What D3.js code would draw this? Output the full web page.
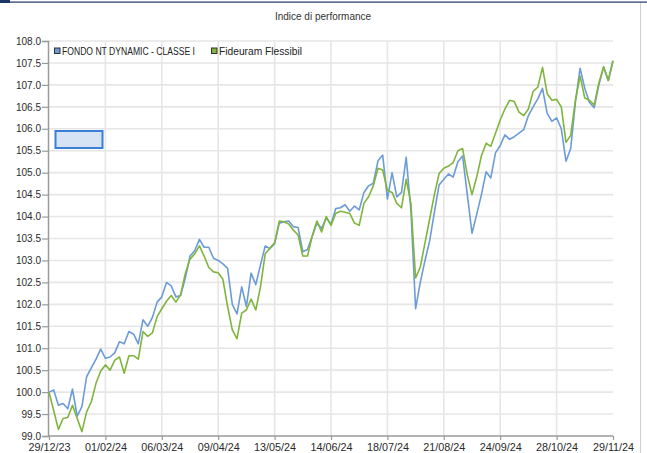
<!DOCTYPE html>
<html>
<head>
<meta charset="utf-8">
<script src="https://cdn.jsdelivr.net/npm/d3@7"></script>
<style>
    body { margin: 0; background: #fff; }
    svg { display: block; font-family: "Liberation Sans", Arial, sans-serif; }
</style>
</head>
<body>
<svg id="chart"></svg>
<script>
const title = "Indice di performance";
const seriesNames = ["FONDO NT DYNAMIC - CLASSE I", "Fideuram Flessibil"];
const dateLabels = ["29/12/23", "01/02/24", "06/03/24", "09/04/24", "13/05/24", "14/06/24",
    "18/07/24", "21/08/24", "24/09/24", "28/10/24", "29/11/24"];
const pointsPerLabel = 12;

// FONDO NT DYNAMIC - CLASSE I
const fondoValues = [
    100.0, 100.05, 99.7, 99.74, 99.62, 100.07, 99.45, 99.67, 100.35, 100.55,
    100.75, 100.98, 100.77, 100.8, 100.9, 101.15, 101.1, 101.38, 101.32, 101.1,
    101.65, 101.5, 101.7, 102.05, 102.17, 102.5, 102.42, 102.17, 102.2, 102.6,
    103.1, 103.22, 103.48, 103.3, 103.3, 103.05, 103.0, 102.92, 102.82, 102.0,
    101.78, 102.4, 101.95, 102.71, 102.45, 102.9, 103.33, 103.27, 103.38, 103.85,
    103.88, 103.9, 103.77, 103.75, 103.2, 103.25, 103.55, 103.85, 103.73, 103.97,
    103.82, 104.18, 104.2, 104.27, 104.12, 104.24, 104.15, 104.55, 104.7, 104.76,
    105.27, 105.4, 104.4, 105.0, 104.45, 104.55, 105.35, 104.15, 101.9, 102.5,
    103.0, 103.45, 104.1, 104.72, 104.85, 104.97, 104.9, 105.25, 105.38, 104.5,
    103.62, 104.05, 104.5, 105.02, 104.88, 105.45, 105.62, 105.86, 105.76, 105.82,
    105.9, 105.98, 106.3, 106.5, 106.68, 106.92, 106.35, 106.17, 106.25, 106.0,
    105.26, 105.55, 106.6, 107.38, 106.92, 106.6, 106.48, 107.0, 107.41, 107.1,
    107.55
];

// Fideuram Flessibil
const fideuramValues = [
    100.0, 99.58, 99.15, 99.4, 99.42, 99.7, 99.4, 99.1, 99.55, 99.78,
    100.2, 100.48, 100.62, 100.5, 100.73, 100.8, 100.43, 100.83, 100.83, 100.75,
    101.38, 101.27, 101.35, 101.72, 101.9, 102.07, 102.2, 102.05, 102.22, 102.7,
    103.03, 103.15, 103.33, 103.1, 102.84, 102.74, 102.72, 102.57, 101.95, 101.42,
    101.22, 101.8, 101.87, 102.12, 101.87, 102.4, 103.15, 103.28, 103.4, 103.9,
    103.88, 103.83, 103.69, 103.58, 103.1, 103.1, 103.55, 103.9, 103.65, 104.0,
    103.8, 104.07, 104.12, 104.1, 104.07, 103.85, 103.8, 104.3, 104.45, 104.7,
    105.1, 105.06, 104.6, 104.55, 104.3, 104.2, 104.85, 104.3, 102.6, 102.85,
    103.4, 103.95, 104.5, 104.98, 105.1, 105.15, 105.23, 105.5, 105.55, 104.95,
    104.5, 104.9, 105.38, 105.67, 105.6, 105.9, 106.2, 106.45, 106.65, 106.62,
    106.38, 106.3, 106.45, 106.85, 106.95, 107.4, 106.8, 106.65, 106.67, 106.5,
    105.69, 105.85, 106.65, 107.2, 106.7, 106.65, 106.54, 107.05, 107.41, 107.1,
    107.55
];

const yTickValues = d3.range(99, 108.01, 0.5);
const colors = ["#6c9bd8", "#7fb53c"];

class PerformanceChart {
    margin = { top: 41, right: 34, bottom: 17, left: 49 };

    constructor(svg, width = 647, height = 453) {
        this.svg = d3.select(svg);
        this.width = width;
        this.height = height;
    }

    initialize() {
        this.svg.attr("width", this.width).attr("height", this.height);
        this.plotW = this.width - this.margin.left - this.margin.right;

        // page frame
        this.svg.append("rect")
            .attr("x", 0).attr("y", 1.5)
            .attr("width", this.width).attr("height", 1.2)
            .attr("fill", "#1c3564");
        this.svg.append("rect")
            .attr("x", 0).attr("y", 0)
            .attr("width", 10).attr("height", 3)
            .attr("fill", "#1c3564");
        this.svg.append("line")
            .attr("x1", 640.5).attr("x2", 640.5)
            .attr("y1", 3).attr("y2", this.height)
            .attr("stroke", "#d0d0d0");

        this.svg.append("text")
            .attr("x", 323).attr("y", 20)
            .attr("text-anchor", "middle")
            .style("font-size", "10px")
            .attr("fill", "#333")
            .text(title);

        this.x = d3.scaleLinear()
            .domain([0, (dateLabels.length - 1) * pointsPerLabel])
            .range([this.margin.left, this.margin.left + this.plotW]);
        this.y = d3.scaleLinear()
            .domain([99, 108])
            .range([436, this.margin.top]);
    }

    update() {
        let x = this.x, y = this.y;
        let x0 = this.margin.left - 1;
        let x1 = this.margin.left + this.plotW;
        let yTop = this.y(108), yBot = this.y(99);
        let tickIdx = dateLabels.map((d, i) => i * pointsPerLabel);

        let grid = this.svg.append("g").attr("stroke", "#e6e6e6").attr("stroke-width", 1.6);
        grid.selectAll("line.h").data(yTickValues.slice(1)).join("line")
            .attr("class", "h")
            .attr("x1", x0).attr("x2", x1)
            .attr("y1", d => y(d)).attr("y2", d => y(d));
        grid.selectAll("line.v").data(tickIdx.slice(1, -1)).join("line")
            .attr("class", "v")
            .attr("x1", d => x(d)).attr("x2", d => x(d))
            .attr("y1", yTop).attr("y2", yBot);

        let yAxis = this.svg.append("g")
            .attr("transform", `translate(${x0}, 0)`)
            .call(d3.axisLeft(y).tickValues(yTickValues).tickFormat(d3.format(".1f"))
                .tickSize(6).tickPadding(1));
        let xAxis = this.svg.append("g")
            .attr("transform", `translate(0, ${yBot})`)
            .call(d3.axisBottom(x).tickValues(tickIdx).tickFormat((d, i) => dateLabels[i])
                .tickSizeInner(4).tickSizeOuter(0).tickPadding(3));

        [yAxis, xAxis].forEach(a => {
            a.select(".domain").attr("stroke", "#9a9a9a").attr("stroke-width", 1.5);
            a.selectAll(".tick line").attr("stroke", "#9a9a9a").attr("stroke-width", 1.2);
            a.selectAll("text").attr("fill", "#2a2a2a").style("font-family", "Liberation Sans, Arial, sans-serif");
        });
        yAxis.selectAll("text").style("font-size", "10px");
        xAxis.selectAll("text").style("font-size", "10.8px");
        xAxis.select(".domain").attr("d", `M${x0},0H${x1}`);

        let line = d3.line().x((d, i) => x(i)).y(d => y(d));
        [fondoValues, fideuramValues].forEach((vals, k) => {
            this.svg.append("path")
                .datum(vals)
                .attr("fill", "none")
                .attr("stroke", colors[k])
                .attr("stroke-width", 1.6)
                .attr("stroke-linejoin", "round")
                .attr("d", line);
        });

        // legend
        let legend = this.svg.append("g").attr("transform", "translate(54, 47.5)");
        let legendX = [0, 157];
        let legendW = [133, 83];
        seriesNames.forEach((name, k) => {
            legend.append("rect")
                .attr("x", legendX[k] + 0.5).attr("y", 0.5)
                .attr("width", 5.5).attr("height", 5.5)
                .attr("fill", colors[k])
                .attr("stroke", "#333").attr("stroke-width", 1);
            legend.append("text")
                .attr("x", legendX[k] + 8).attr("y", 7)
                .attr("textLength", legendW[k])
                .attr("lengthAdjust", "spacingAndGlyphs")
                .style("font-size", "10px")
                .attr("fill", "#222")
                .text(name);
        });

        // selection box
        this.svg.append("rect")
            .attr("x", 55.5).attr("y", 131)
            .attr("width", 47).attr("height", 17)
            .attr("fill", "#d5e3f4")
            .attr("stroke", "#3b7fd6")
            .attr("stroke-width", 2);
    }
}

let chart = new PerformanceChart("#chart");
chart.initialize();
chart.update();
</script>
</body>
</html>
